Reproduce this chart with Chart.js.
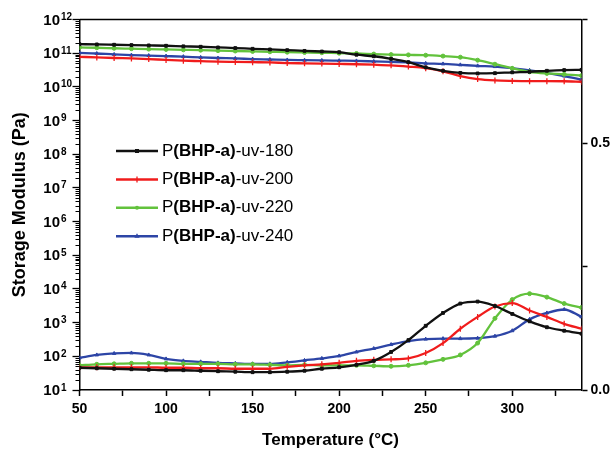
<!DOCTYPE html>
<html>
<head>
<meta charset="utf-8">
<script src="https://cdn.jsdelivr.net/npm/chart.js@4.4.0/dist/chart.umd.min.js"></script>
<style>
  html, body { margin: 0; padding: 0; background: #fff; }
  #wrap { width: 615px; height: 452px; }
</style>
</head>
<body>
<div id="wrap"><canvas id="dmaChart" width="615" height="452"></canvas></div>
<script>
// Temperatura (°C)
const temps = [50, 60, 70, 80, 90, 100, 110, 120, 130, 140, 150, 160, 170, 180, 190,
  200, 210, 220, 230, 240, 250, 260, 270, 280, 290, 300, 310, 320, 330, 340];

// Módulo de almacenamiento (Pa), eje izquierdo logarítmico
const modulus180 = [1.85e11, 1.82e11, 1.78e11, 1.74e11, 1.70e11, 1.66e11, 1.60e11, 1.55e11, 1.48e11, 1.42e11,
  1.35e11, 1.29e11, 1.23e11, 1.17e11, 1.12e11, 1.07e11, 9.0e10, 8.1e10, 6.8e10, 5.4e10,
  3.8e10, 3.0e10, 2.6e10, 2.5e10, 2.55e10, 2.7e10, 2.8e10, 3.0e10, 3.15e10, 3.2e10];
const modulus200 = [7.8e10, 7.5e10, 7.2e10, 7.0e10, 6.7e10, 6.3e10, 6.0e10, 5.8e10, 5.6e10, 5.5e10,
  5.4e10, 5.3e10, 5.1e10, 5.0e10, 4.9e10, 4.8e10, 4.7e10, 4.55e10, 4.35e10, 4.0e10,
  3.6e10, 2.9e10, 2.1e10, 1.7e10, 1.55e10, 1.5e10, 1.48e10, 1.48e10, 1.47e10, 1.42e10];
const modulus220 = [1.48e11, 1.45e11, 1.40e11, 1.36e11, 1.32e11, 1.29e11, 1.26e11, 1.23e11, 1.19e11, 1.16e11,
  1.13e11, 1.10e11, 1.07e11, 1.05e11, 1.03e11, 1.0e11, 9.8e10, 9.4e10, 9.1e10, 8.9e10,
  8.7e10, 8.2e10, 7.6e10, 6.2e10, 4.7e10, 3.55e10, 2.8e10, 2.5e10, 2.35e10, 2.15e10];
const modulus240 = [1.02e11, 9.8e10, 9.2e10, 8.8e10, 8.5e10, 8.2e10, 7.9e10, 7.5e10, 7.2e10, 7.0e10,
  6.7e10, 6.5e10, 6.3e10, 6.2e10, 6.1e10, 6.0e10, 5.9e10, 5.7e10, 5.5e10, 5.3e10,
  5.0e10, 4.8e10, 4.5e10, 4.2e10, 4.0e10, 3.6e10, 3.1e10, 2.6e10, 2.1e10, 1.65e10];

// tan delta, eje derecho
const tan180 = [0.045, 0.044, 0.043, 0.042, 0.041, 0.040, 0.040, 0.039, 0.038, 0.037,
  0.036, 0.036, 0.037, 0.039, 0.043, 0.046, 0.051, 0.059, 0.077, 0.101,
  0.130, 0.156, 0.175, 0.179, 0.170, 0.154, 0.139, 0.127, 0.120, 0.114];
const tan200 = [0.046, 0.046, 0.046, 0.046, 0.046, 0.045, 0.045, 0.044, 0.044, 0.043,
  0.043, 0.043, 0.047, 0.050, 0.052, 0.055, 0.059, 0.061, 0.062, 0.064,
  0.075, 0.095, 0.124, 0.148, 0.169, 0.176, 0.161, 0.148, 0.134, 0.124];
const tan220 = [0.050, 0.052, 0.053, 0.054, 0.054, 0.054, 0.053, 0.053, 0.053, 0.052,
  0.052, 0.051, 0.050, 0.051, 0.050, 0.050, 0.050, 0.049, 0.048, 0.050,
  0.055, 0.062, 0.071, 0.095, 0.145, 0.183, 0.195, 0.188, 0.175, 0.167];
const tan240 = [0.065, 0.071, 0.074, 0.075, 0.071, 0.063, 0.059, 0.057, 0.055, 0.054,
  0.053, 0.053, 0.056, 0.060, 0.064, 0.069, 0.077, 0.084, 0.092, 0.099,
  0.103, 0.104, 0.104, 0.105, 0.109, 0.120, 0.143, 0.156, 0.163, 0.148];

const samples = ['180', '200', '220', '240'];
const modulusSets = [modulus180, modulus200, modulus220, modulus240];
const tanSets = [tan180, tan200, tan220, tan240];

// Ticks
const decades = [1, 2, 3, 4, 5, 6, 7, 8, 9, 10, 11, 12];
const tanLabels = { 0: '0.0', 0.5: '0.5' };

const colors = ['#111111', '#f01c1c', '#62c23c', '#2d45a6'];
const markers = ['rect', 'line', 'circle', 'triangle'];
const FONT = "'Liberation Sans', Arial, Helvetica, sans-serif";

Chart.defaults.font.family = FONT;
Chart.defaults.color = '#000';

function makeDataset(values, i, axis) {
  return {
    label: 'P(BHP-a)-uv-' + samples[i],
    data: temps.map((t, j) => ({ x: t, y: values[j] })),
    yAxisID: axis,
    borderColor: colors[i],
    backgroundColor: colors[i],
    borderWidth: 2.3,
    pointStyle: markers[i],
    pointRotation: markers[i] === 'line' ? 90 : 0,
    pointRadius: markers[i] === 'line' ? 3 : 2,
    pointBorderWidth: markers[i] === 'line' ? 1.3 : 1,
    pointHoverRadius: 0,
    cubicInterpolationMode: 'monotone',
    fill: false
  };
}

const datasets = [];
modulusSets.forEach((vals, i) => datasets.push(makeDataset(vals, i, 'y')));
tanSets.forEach((vals, i) => datasets.push(makeDataset(vals, i, 'y2')));

// Marco superior, marcas menores del eje log, etiquetas 10^n y leyenda
const extras = {
  id: 'extras',
  afterDraw(chart) {
    const ctx = chart.ctx;
    const { left, right, top } = chart.chartArea;
    const ys = chart.scales.y;
    ctx.save();
    ctx.strokeStyle = '#000';
    ctx.lineWidth = 1.5;
    ctx.beginPath();
    ctx.moveTo(left, top);
    ctx.lineTo(right, top);
    ctx.stroke();

    ctx.lineWidth = 1;
    for (let p = 1; p < 12; p++) {
      for (let k = 2; k <= 9; k++) {
        const py = Math.round(ys.getPixelForValue(k * Math.pow(10, p))) + 0.5;
        ctx.beginPath();
        ctx.moveTo(left - 4, py);
        ctx.lineTo(left, py);
        ctx.stroke();
      }
    }

    ctx.fillStyle = '#000';
    decades.forEach(p => {
      const py = ys.getPixelForValue(Math.pow(10, p));
      ctx.font = 'bold 15px ' + FONT;
      ctx.textAlign = 'right';
      ctx.textBaseline = 'middle';
      ctx.fillText('10', left - 19.5, py + 1);
      ctx.font = 'bold 10px ' + FONT;
      ctx.textAlign = 'left';
      ctx.textBaseline = 'alphabetic';
      ctx.fillText(String(p), left - 18.5, py + 0.5);
    });

    // leyenda
    samples.forEach((s, i) => {
      const ry = 151 + i * 28.4;
      ctx.strokeStyle = colors[i];
      ctx.fillStyle = colors[i];
      ctx.lineWidth = 2.5;
      ctx.beginPath();
      ctx.moveTo(116, ry);
      ctx.lineTo(158, ry);
      ctx.stroke();
      drawMarker(ctx, markers[i], 137, ry);

      ctx.fillStyle = '#000';
      ctx.textAlign = 'left';
      ctx.textBaseline = 'middle';
      let tx = 162;
      ctx.font = '17px ' + FONT;
      ctx.fillText('P', tx, ry);
      tx += ctx.measureText('P').width;
      ctx.font = 'bold 17px ' + FONT;
      ctx.fillText('(BHP-a)', tx, ry);
      tx += ctx.measureText('(BHP-a)').width;
      ctx.font = '17px ' + FONT;
      ctx.fillText('-uv-' + s, tx, ry);
    });
    ctx.restore();
  }
};

function drawMarker(ctx, style, x, y) {
  ctx.beginPath();
  if (style === 'rect') {
    ctx.fillRect(x - 2, y - 2, 4, 4);
  } else if (style === 'line') {
    ctx.lineWidth = 1.3;
    ctx.moveTo(x, y - 3);
    ctx.lineTo(x, y + 3);
    ctx.stroke();
  } else if (style === 'circle') {
    ctx.arc(x, y, 2, 0, Math.PI * 2);
    ctx.fill();
  } else {
    ctx.moveTo(x, y - 3);
    ctx.lineTo(x + 2.6, y + 1.5);
    ctx.lineTo(x - 2.6, y + 1.5);
    ctx.closePath();
    ctx.fill();
  }
}

const ctx = document.getElementById('dmaChart').getContext('2d');
const dmaChart = new Chart(ctx, {
  type: 'line',
  data: { datasets: datasets },
  plugins: [extras],
  options: {
    responsive: false,
    animation: false,
    devicePixelRatio: 1,
    layout: { padding: { top: 19.5, left: 0, right: 0, bottom: 0 } },
    plugins: {
      legend: { display: false },
      tooltip: { enabled: false }
    },
    scales: {
      x: {
        type: 'linear',
        min: 50,
        max: 340,
        border: { color: '#000', width: 1.5 },
        grid: { drawOnChartArea: false, tickLength: 6, tickColor: '#000', tickWidth: 1.5 },
        ticks: {
          stepSize: 25,
          includeBounds: false,
          autoSkip: false,
          maxRotation: 0,
          padding: 5,
          font: { size: 14, weight: 'bold' },
          callback: v => (v % 50 === 0 ? String(v) : '')
        },
        title: {
          display: true,
          text: 'Temperature (°C)',
          font: { size: 17, weight: 'bold' },
          padding: { top: 0, bottom: 1 }
        },
        afterFit: scale => { scale.height = 62; }
      },
      y: {
        type: 'logarithmic',
        position: 'left',
        min: 10,
        max: 1e12,
        border: { color: '#000', width: 1.5 },
        grid: { drawOnChartArea: false, tickLength: 7, tickColor: '#000', tickWidth: 1.3 },
        afterBuildTicks: scale => {
          scale.ticks = decades.map(p => ({ value: Math.pow(10, p) }));
        },
        ticks: { autoSkip: false, callback: () => '' },
        title: {
          display: true,
          text: 'Storage Modulus (Pa)',
          font: { size: 18, weight: 'bold' },
          padding: { top: 9, bottom: 0 }
        },
        afterFit: scale => { scale.width = 79.5; }
      },
      y2: {
        type: 'linear',
        position: 'right',
        min: 0,
        max: 0.75,
        border: { color: '#000', width: 1.5 },
        grid: { drawOnChartArea: false, tickLength: 6, tickColor: '#000', tickWidth: 1.5 },
        ticks: {
          stepSize: 0.25,
          autoSkip: false,
          padding: 3,
          font: { size: 14, weight: 'bold' },
          callback: v => tanLabels[v] || ''
        },
        afterFit: scale => { scale.width = 33.5; }
      }
    }
  }
});
</script>
</body>
</html>
